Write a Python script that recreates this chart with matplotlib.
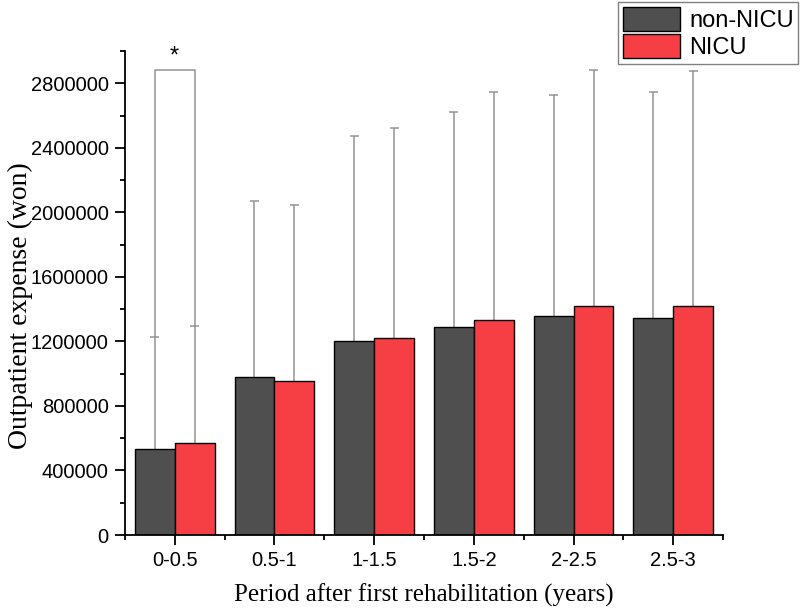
import numpy as np
import matplotlib
matplotlib.use('Agg')
import matplotlib.pyplot as plt
from matplotlib.ticker import MultipleLocator, FixedLocator

plt.rcParams['font.family'] = ['Liberation Sans', 'DejaVu Sans']

periods = ['0-0.5', '0.5-1', '1-1.5', '1.5-2', '2-2.5', '2.5-3']
non_nicu = [531000, 977000, 1205000, 1288000, 1358000, 1345000]
nicu = [568000, 957000, 1221000, 1331000, 1418000, 1418000]
non_nicu_upper = [1226000, 2073000, 2476000, 2621000, 2727000, 2747000]
nicu_upper = [1296000, 2044000, 2523000, 2747000, 2881000, 2877000]
bracket_top = 2881000

GRAY = '#4f4f4f'
RED = '#f63f45'
ERR = '#939393'

fig = plt.figure(figsize=(8.0, 6.13), dpi=100)
ax = fig.add_axes([0.156, 0.1272, 0.748, 0.7896])

x = np.arange(len(periods))
w = 0.4
cw = 0.045

# error bars (upper only) drawn behind bars
for xs, tops, ups in [(x - w / 2, non_nicu, non_nicu_upper), (x + w / 2, nicu, nicu_upper)]:
    ax.vlines(xs, tops, ups, color=ERR, lw=1.1, zorder=1)
    ax.hlines(ups, xs - cw, xs + cw, color=ERR, lw=1.1, zorder=1)

ax.bar(x - w / 2, non_nicu, w, color=GRAY, edgecolor='black', lw=1.0, label='non-NICU', zorder=2)
ax.bar(x + w / 2, nicu, w, color=RED, edgecolor='black', lw=1.0, label='NICU', zorder=2)

# significance bracket on first group
x0, x1 = x[0] - w / 2, x[0] + w / 2
ax.plot([x0, x0, x1, x1], [non_nicu_upper[0], bracket_top, bracket_top, nicu_upper[0]],
        color=ERR, lw=1.1, zorder=1)
ax.text(x[0], 2965000, '*', ha='center', va='center', fontsize=17, clip_on=False)

ax.set_xlim(-0.5, 5.5)
ax.set_ylim(0, 3000000)
ax.set_xticks(x)
ax.set_xticklabels(periods)
ax.xaxis.set_minor_locator(FixedLocator(np.arange(-0.5, 6, 1.0)))
ax.yaxis.set_major_locator(MultipleLocator(400000))
ax.yaxis.set_minor_locator(MultipleLocator(200000))
ax.ticklabel_format(axis='y', style='plain')

for s in ['top', 'right']:
    ax.spines[s].set_visible(False)
for s in ['left', 'bottom']:
    ax.spines[s].set_linewidth(1.3)

ax.tick_params(which='major', direction='out', length=7, width=1.3, labelsize=14.5, pad=4.5)
ax.tick_params(which='minor', direction='out', length=3.5, width=1.3)

ax.set_xlabel('Period after first rehabilitation (years)', family='Liberation Serif', fontsize=18, labelpad=10)
ax.set_ylabel('Outpatient expense (won)', family='Liberation Serif', fontsize=20)
ax.yaxis.set_label_coords(-0.154, 0.473)

leg = fig.legend(loc='upper right', bbox_to_anchor=(0.998, 0.997), fontsize=17,
                 handlelength=2.4, handleheight=1.2, labelspacing=0.1, borderpad=0.2,
                 handletextpad=0.4, borderaxespad=0, fancybox=False, framealpha=1)
leg.get_frame().set_edgecolor('#808080')
leg.get_frame().set_linewidth(1.0)

fig.savefig('out.png', dpi=100)
